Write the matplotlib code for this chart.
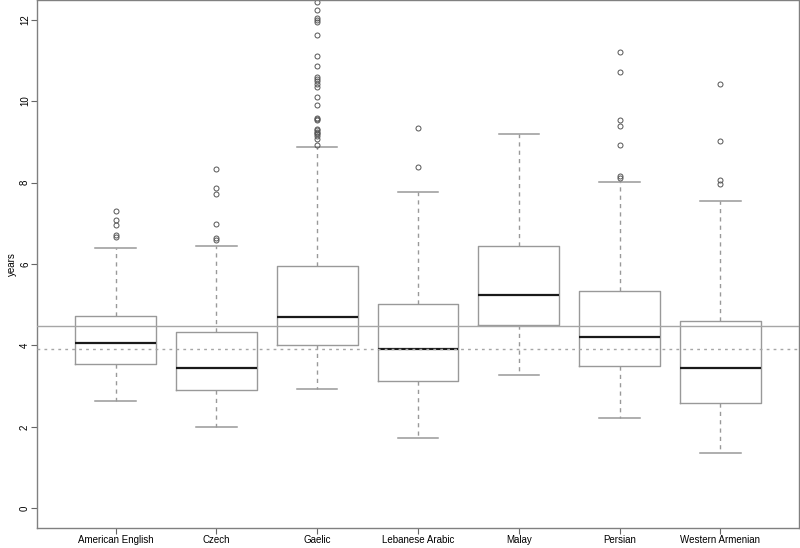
import matplotlib.pyplot as plt
import numpy as np

plt.rcParams['font.family'] = ['Liberation Sans', 'DejaVu Sans']

languages = ['American English', 'Czech', 'Gaelic', 'Lebanese Arabic',
             'Malay', 'Persian', 'Western Armenian']

# five-number summaries (years)
whisker_lo = [2.63, 1.99, 2.92, 1.72, 3.27, 2.21, 1.35]
q1 = [3.54, 2.91, 4.02, 3.12, 4.51, 3.49, 2.60]
medians = [4.07, 3.44, 4.71, 3.92, 5.23, 4.20, 3.44]
q3 = [4.72, 4.34, 5.95, 5.01, 6.44, 5.33, 4.60]
whisker_hi = [6.40, 6.44, 8.87, 7.77, 9.18, 8.01, 7.55]

outliers = [
    [7.31, 7.08, 6.95, 6.72, 6.67],
    [8.32, 7.87, 7.71, 6.98, 6.63, 6.59],
    [12.42, 12.23, 12.04, 11.98, 11.94, 11.63, 11.10, 10.85, 10.58, 10.53,
     10.48, 10.43, 10.35, 10.09, 9.90, 9.59, 9.56, 9.53, 9.32, 9.29, 9.25,
     9.22, 9.18, 9.14, 9.06, 8.91],
    [9.34, 8.39],
    [],
    [11.20, 10.72, 9.53, 9.38, 8.91, 8.15, 8.12],
    [10.42, 9.01, 8.07, 7.97],
]

overall_mean = 4.48
overall_median = 3.92

stats = []
for i, name in enumerate(languages):
    stats.append({'label': name, 'whislo': whisker_lo[i], 'q1': q1[i],
                  'med': medians[i], 'q3': q3[i], 'whishi': whisker_hi[i],
                  'fliers': np.array(outliers[i])})

grey = '#999999'
fig = plt.figure(figsize=(8, 5.48), dpi=100)
ax = fig.add_axes([37 / 800, 1 - 528 / 548, 762 / 800, 528 / 548])

ax.bxp(stats, positions=range(1, 8), widths=0.8, patch_artist=False,
       boxprops=dict(color=grey, linewidth=1),
       medianprops=dict(color='#1a1a1a', linewidth=1.6),
       whiskerprops=dict(color=grey, linewidth=1, linestyle=(0, (3, 3))),
       capprops=dict(color=grey, linewidth=1.1), capwidths=0.4,
       flierprops=dict(marker='o', markersize=3.6, markerfacecolor='none',
                       markeredgecolor='#555555', markeredgewidth=0.7))

ax.axhline(overall_mean, color='#a6a6a6', linewidth=1, zorder=3)
ax.axhline(overall_median, color='#a6a6a6', linewidth=1,
           linestyle=(0, (2, 3)), zorder=3)

ax.set_xlim(0.22, 7.78)
ax.set_ylim(-0.48, 12.48)
ax.set_yticks(range(0, 13, 2))
ax.set_xticks(range(1, 8))
ax.set_xticklabels(languages, fontsize=7)
for lab in ax.get_yticklabels():
    lab.set_rotation(90)
    lab.set_va('center')
    lab.set_fontsize(7)
ax.tick_params(colors='#666666', length=4, width=0.8, pad=1,
               labelcolor='black')
for s in ax.spines.values():
    s.set_color('#808080')
    s.set_linewidth(1)
ax.set_ylabel('years', fontsize=7, labelpad=2)

fig.savefig('out.png', dpi=100)
